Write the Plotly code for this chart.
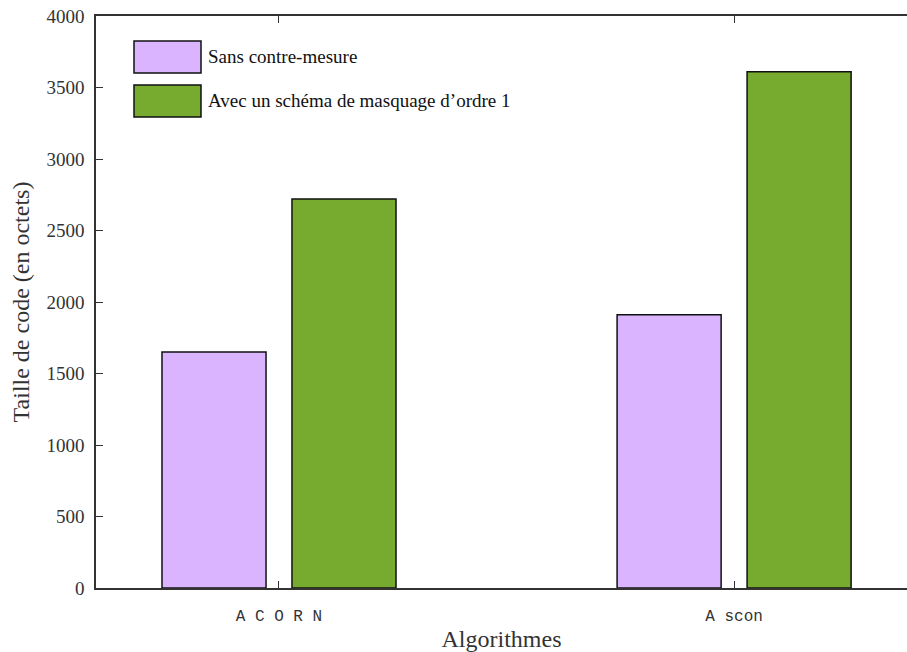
import plotly.graph_objects as go

# data
algorithms = ["A C O R N", "A scon"]
series_names = ["Sans contre-mesure", "Avec un schéma de masquage d’ordre 1"]
sans_contre_mesure = [1650, 1910]
avec_masquage = [2720, 3610]

colors = ["#DAB4FE", "#76AB2F"]
serif = "Liberation Serif, DejaVu Serif, serif"
mono = "Liberation Mono, DejaVu Sans Mono, monospace"

bar_w = 0.2286
offsets = [-0.257, 0.0286]

fig = go.Figure()
for name, vals, col, off in zip(series_names, [sans_contre_mesure, avec_masquage], colors, offsets):
    fig.add_trace(go.Bar(
        x=algorithms, y=vals, name=name,
        width=bar_w, offset=off,
        marker=dict(color=col, line=dict(color="#111111", width=1.5)),
        showlegend=False,
    ))

# legend drawn by hand to get the large LaTeX-style swatches
for i, (name, col) in enumerate(zip(series_names, colors)):
    y0 = 1 - (25 + 44 * i) / 572
    y1 = 1 - (57 + 44 * i) / 572
    fig.add_shape(type="rect", xref="paper", yref="paper",
                  x0=38 / 811, x1=105 / 811, y0=y1, y1=y0,
                  fillcolor=col, line=dict(color="#111111", width=1.5))
    fig.add_annotation(xref="paper", yref="paper", x=110 / 811, y=(y0 + y1) / 2,
                       text=name, showarrow=False, xanchor="left", yanchor="middle",
                       font=dict(family=serif, size=19, color="#111111"))

axis_common = dict(
    showline=True, linecolor="#333333", linewidth=1.5,
    ticks="inside", tickcolor="#333333", tickwidth=1.2,
    showgrid=False, zeroline=False, automargin=False,
)

fig.update_xaxes(
    **axis_common, mirror="ticks", ticklen=7,
    range=[-0.402, 1.380],
    tickfont=dict(family=mono, size=16, color="#333333"),
    ticklabelstandoff=12,
    title=dict(text="Algorithmes", font=dict(family=serif, size=24, color="#333333"), standoff=6),
)
fig.update_yaxes(
    **axis_common, mirror=False, ticklen=7,
    range=[0, 4000], tickvals=[0, 500, 1000, 1500, 2000, 2500, 3000, 3500, 4000],
    tickfont=dict(family=serif, size=19, color="#333333"),
    ticklabelstandoff=6,
    title=dict(text="Taille de code (en octets)", font=dict(family=serif, size=24, color="#333333"), standoff=10),
)

fig.update_layout(
    width=907, height=652,
    margin=dict(l=96, r=0, t=16, b=64),
    paper_bgcolor="white", plot_bgcolor="white",
    barmode="overlay",
)

fig.write_html("out.html", config={"displayModeBar": False},
               post_script="document.body.style.margin='0';")
